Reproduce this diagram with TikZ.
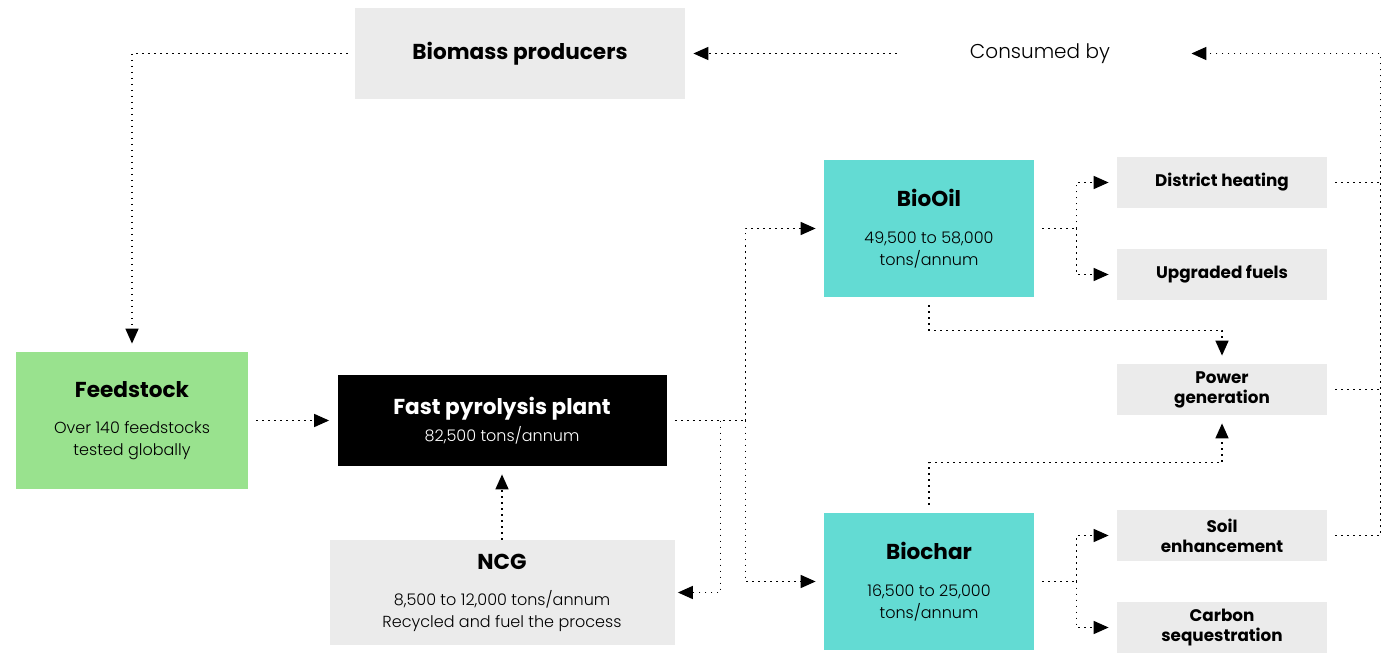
\documentclass[tikz,border=0pt]{standalone}
\usepackage{fontspec}
\setmainfont{Poppins}[UprightFont=* Light, BoldFont=* Bold]
\usepackage{xcolor}
\usepackage{tikz}
\usetikzlibrary{arrows.meta, calc, positioning}
\newcommand{\boxtitle}[1]{{\fontsize{10.8}{13}\selectfont\bfseries #1}}
\tikzset{
    boxnode/.style = {rectangle, fill=boxgray, inner sep=0em, node distance=0em, 
      font=\fontsize{8}{11}\selectfont},
    smallnode/.style = {rectangle, fill=boxgray, inner sep=0em, node distance=0em, 
      minimum width=105pt, minimum height=25.5pt, font=\fontsize{8.4}{10}\selectfont\bfseries},
    productnode/.style = {boxnode, fill=oilteal, minimum width=105pt, minimum height=68.5pt},
    textnode/.style = {draw=none, fill=none, rectangle, inner xsep=36.5pt, inner ysep=0em, 
      node distance=0em, font=\fontsize{10}{12}\selectfont},
    dotline/.style = {black, line width=0.8pt, dash pattern=on 0.8pt off 2.2pt},
    dotarrow/.style = {dotline, -{Triangle[length=7.5pt, width=6.5pt]}, shorten >=4pt},
    every text node part/.style={align=center}
}
\definecolor{boxgray}{RGB}{235, 235, 235}
\definecolor{oilteal}{RGB}{99, 219, 211}
\definecolor{feedgreen}{RGB}{153, 226, 142}

\begin{document}
\begin{tikzpicture}
\useasboundingbox (0,0) rectangle (700pt,-331pt);

\node [boxnode, fill=black, text=white, name=plant, minimum width=164.5pt, minimum height=45.5pt] at (251pt,-210.25pt) 
  {\boxtitle{Fast pyrolysis plant}\\[2.5pt]82,500 tons/annum};
\node [boxnode, name=biomass, minimum width=165pt, minimum height=45.5pt, above of=plant, xshift=9pt, yshift=183.5pt] 
  {\boxtitle{Biomass producers}};
\node [textnode, name=consumed, right of=biomass, xshift=260pt] {Consumed by};
\node [boxnode, fill=feedgreen, name=feedstock, minimum width=116pt, minimum height=68.5pt, left of=plant, xshift=-185pt] 
  {\boxtitle{Feedstock}\\[7pt]Over 140 feedstocks\\tested globally};
\node [boxnode, name=ncg, minimum width=172.5pt, minimum height=52.5pt, below of=plant, yshift=-86pt] 
  {\boxtitle{NCG}\\[7pt]8,500 to 12,000 tons/annum\\Recycled and fuel the process};

\node [productnode, name=biooil, right of=plant, xshift=213.5pt, yshift=96pt] 
  {\boxtitle{BioOil}\\[7.5pt]49,500 to 58,000\\tons/annum};
\node [productnode, name=biochar, right of=plant, xshift=213.5pt, yshift=-80.5pt] 
  {\boxtitle{Biochar}\\[7.5pt]16,500 to 25,000\\tons/annum};

\node [smallnode, name=heating, right of=biooil, xshift=146.5pt, yshift=23pt] {District heating};
\node [smallnode, name=upgraded, right of=biooil, xshift=146.5pt, yshift=-23pt] {Upgraded fuels};
\node [smallnode, name=power, right of=plant, xshift=360pt, yshift=15.5pt] {Power\\generation};
\node [smallnode, name=soil, right of=biochar, xshift=146.5pt, yshift=23pt] {Soil\\enhancement};
\node [smallnode, name=carbon, right of=biochar, xshift=146.5pt, yshift=-23pt] {Carbon\\sequestration};

\coordinate [xshift=39.25pt] (split) at (plant.east);
\coordinate [xshift=26.75pt] (back) at (plant.east);
\coordinate [xshift=21pt] (oilfork) at (biooil.east);
\coordinate [xshift=21pt] (charfork) at (biochar.east);
\coordinate [xshift=26.5pt] (bus) at (heating.east);

\draw [dotarrow] (consumed.west) -- (biomass.east);
\draw [dotarrow] ([xshift=-3.5pt]biomass.west) -| (feedstock.north);
\draw [dotarrow] ([xshift=4pt]feedstock.east) -- (plant.west);
\draw [dotarrow] (ncg.north) -- (plant.south);

\draw [dotline] ([xshift=4pt]plant.east) -- (split);
\draw [dotarrow] (split) |- (biooil.west);
\draw [dotarrow] (split) |- (biochar.west);
\draw [dotarrow, shorten >=1.5pt] (back) |- (ncg.east);

\draw [dotline] ([xshift=4pt]biooil.east) -- (oilfork);
\draw [dotarrow] (oilfork) |- (heating.west);
\draw [dotarrow] (oilfork) |- (upgraded.west);
\draw [dotline] ([xshift=4pt]biochar.east) -- (charfork);
\draw [dotarrow] (charfork) |- (soil.west);
\draw [dotarrow] (charfork) |- (carbon.west);

\draw [dotarrow] ([yshift=-4pt]biooil.south) -- ++(0,-12.5pt) -| (power.north);
\draw [dotarrow] ([yshift=4pt]biochar.north) -- ++(0,21pt) -| (power.south);

\draw [dotline] ([xshift=4pt]heating.east) -- (heating.east -| bus);
\draw [dotline] ([xshift=4pt]power.east) -- (power.east -| bus);
\draw [dotarrow] ([xshift=4pt]soil.east) -| (bus |- consumed.east) -- (consumed.east);
\end{tikzpicture}
\end{document}
